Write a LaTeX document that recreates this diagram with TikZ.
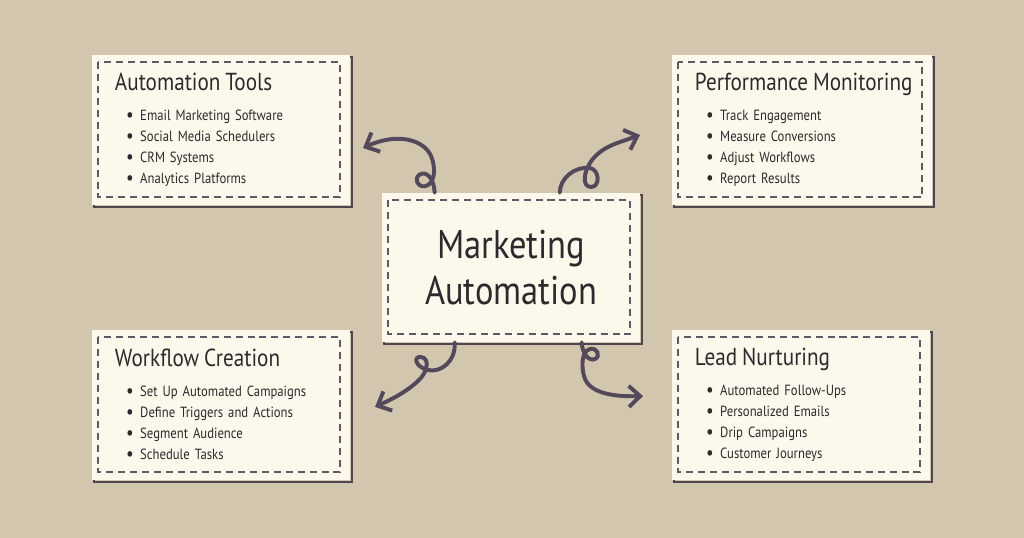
\documentclass[tikz,border=0pt]{standalone}
\usepackage{fontspec}
\setmainfont{PT Sans}[FakeStretch=0.86]
\usetikzlibrary{arrows.meta,calc}

\definecolor{kraft}{HTML}{D3C6AF}
\definecolor{cream}{HTML}{FDF8EC}
\definecolor{stitch}{HTML}{615866}
\definecolor{edge}{HTML}{4F4652}
\definecolor{ink}{HTML}{2B2A2C}
\definecolor{swirl}{HTML}{54495A}

\newcommand{\cardhead}[1]{\mbox{\fontsize{17.5}{18}\selectfont #1}\\[6pt]}
\newcommand{\point}[1]{\hspace*{8pt}\raisebox{-0.8pt}{\fontsize{14}{15}\selectfont\textbullet}\hspace{4.5pt}#1}

\tikzset{
  card/.style={fill=cream, minimum width=6.45cm, minimum height=3.75cm,
    inner xsep=0.575cm, inner ysep=0pt, text width=5.3cm, align=left,
    text=ink, font=\fontsize{10.5}{15}\selectfont,
    preaction={draw=edge, line width=1.1pt, transform canvas={shift={(2,2)}}},
    path picture={\draw[stitch, line width=1pt, dash pattern=on 5pt off 3.5pt]
      ([shift={(6,7)}]path picture bounding box.north west) rectangle
      ([shift={(-10,-8)}]path picture bounding box.south east);}},
  swirly/.style={draw=swirl, line width=2.8pt, line cap=round,
    -{Straight Barb[length=8pt,width=15pt]}}
}

\begin{document}
\begin{tikzpicture}[x=0.025cm, y=-0.025cm]
  \fill[kraft] (0,0) rectangle (1024,538);

  % cards
  \node[card] (tools) at (221,130) {\cardhead{Automation Tools}
    \point{Email Marketing Software}\\
    \point{Social Media Schedulers}\\
    \point{CRM Systems}\\
    \point{Analytics Platforms}};
  \node[card, minimum width=6.5cm, text width=5.35cm] (perf) at (802,130) {\cardhead{Performance Monitoring}
    \point{Track Engagement}\\
    \point{Measure Conversions}\\
    \point{Adjust Workflows}\\
    \point{Report Results}};
  \node[card] (flow) at (221,405) {\cardhead{Workflow Creation}
    \point{Set Up Automated Campaigns}\\
    \point{Define Triggers and Actions}\\
    \point{Segment Audience}\\
    \point{Schedule Tasks}};
  \node[card] (lead) at (801,405) {\cardhead{Lead Nurturing}
    \point{Automated Follow-Ups}\\
    \point{Personalized Emails}\\
    \point{Drip Campaigns}\\
    \point{Customer Journeys}};

  \node[card, minimum height=3.725cm, align=center,
    font=\fontsize{28.5}{33}\selectfont] (hub) at (511,267.5) {Marketing\\Automation};

  % curly arrows
  \coordinate (tools tip) at (363,148);
  \coordinate (perf tip) at (640,135);
  \coordinate (flow tip) at (375,407);
  \coordinate (lead tip) at (643,396);

  \draw[swirly] ($(hub.north west)+(53,0)$) .. controls (434,178) and (426,170) .. (419,175)
    .. controls (413,180) and (420,190) .. (428,185)
    .. controls (436,180) and (435,165) .. (431,156)
    .. controls (424,140) and (398,132) .. (tools tip);
  \draw[swirly] ($(hub.north west)+(178,0)$) .. controls (560,178) and (575,166) .. (590,168)
    .. controls (600,170) and (600,187) .. (591,187)
    .. controls (582,187) and (583,172) .. (592,160)
    .. controls (603,146) and (618,143) .. (perf tip);
  \draw[swirly] ($(hub.south west)+(73,0)$) .. controls (456,362) and (440,373) .. (428,370)
    .. controls (415,367) and (413,356) .. (421,357)
    .. controls (430,358) and (428,372) .. (418,381)
    .. controls (405,393) and (390,400) .. (flow tip);
  \draw[swirly] ($(hub.south west)+(200,0)$) .. controls (582,352) and (588,362) .. (595,359)
    .. controls (601,356) and (597,347) .. (590,349)
    .. controls (582,351) and (581,365) .. (584,376)
    .. controls (588,392) and (610,397) .. (lead tip);
\end{tikzpicture}
\end{document}
